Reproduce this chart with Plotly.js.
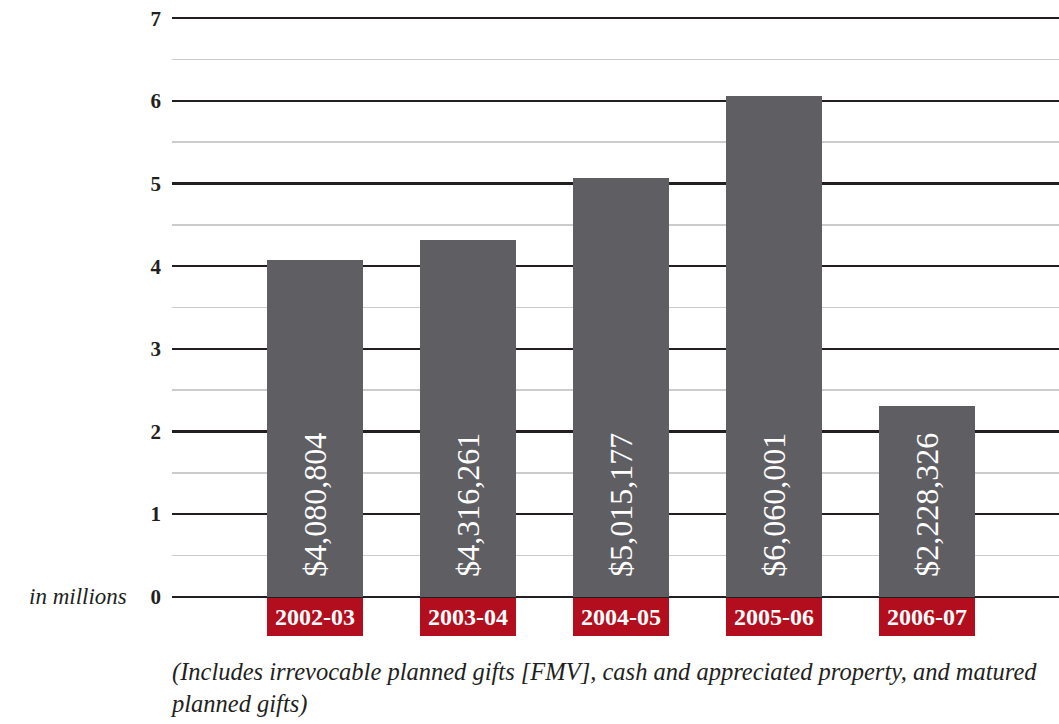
<!DOCTYPE html>
<html>
<head>
<meta charset="utf-8">
<script src="https://cdn.plot.ly/plotly-3.0.1.min.js"></script>
<style>html,body{margin:0;padding:0;background:#fff;}#chart{width:1059px;height:724px;}</style>
</head>
<body>
<div id="chart"></div>
<script>
var fiscalYears = ["2002-03", "2003-04", "2004-05", "2005-06", "2006-07"];
var giftsMillions = [4.07, 4.32, 5.07, 6.06, 2.31];
var giftLabels = ["$4,080,804", "$4,316,261", "$5,015,177", "$6,060,001", "$2,228,326"];
var yTicks = [0, 1, 2, 3, 4, 5, 6, 7];

var serif = "Liberation Serif";
var barColor = "#5f5e63";
var redColor = "#b30e1d";
var ink = "#231f20";

var trace = {
  type: "bar",
  x: fiscalYears,
  y: giftsMillions,
  width: 0.627,
  marker: {color: barColor, line: {width: 0}},
  hoverinfo: "skip"
};

var annotations = [];
fiscalYears.forEach(function (fy, i) {
  annotations.push({
    x: fy, y: 0, xref: "x", yref: "y",
    xanchor: "center", yanchor: "top",
    text: "<b>" + fy + "</b>",
    showarrow: false,
    bgcolor: redColor,
    width: 96, height: 38,
    borderpad: 0, borderwidth: 0,
    yshift: -1,
    font: {family: serif, size: 24, color: "#ffffff"}
  });
  annotations.push({
    x: fy, y: 0, xref: "x", yref: "y",
    xanchor: "center", yanchor: "bottom",
    text: giftLabels[i],
    textangle: -90,
    showarrow: false,
    yshift: 18,
    font: {family: serif, size: 32, color: "#ffffff"}
  });
});
annotations.push({
  x: 0, y: 0, xref: "paper", yref: "y",
  xanchor: "right", yanchor: "middle",
  xshift: -43,
  text: "<i>in millions</i>",
  showarrow: false,
  font: {family: serif, size: 23, color: ink}
});
annotations.push({
  x: 0, y: 0, xref: "paper", yref: "paper",
  xanchor: "left", yanchor: "top",
  xshift: -4,
  yshift: -58,
  align: "left",
  text: "<i>(Includes irrevocable planned gifts [FMV], cash and appreciated property, and matured<br>planned gifts)</i>",
  showarrow: false,
  font: {family: serif, size: 24.5, color: ink}
});

var layout = {
  width: 1059, height: 724,
  margin: {l: 172, r: 0, t: 17, b: 126, pad: 0},
  paper_bgcolor: "#ffffff",
  plot_bgcolor: "#ffffff",
  showlegend: false,
  bargap: 0,
  xaxis: {
    type: "category",
    range: [-0.935, 4.863],
    showticklabels: false,
    showgrid: false,
    zeroline: false,
    showline: false,
    ticks: ""
  },
  yaxis: {
    range: [-0.015, 7.015],
    tickvals: yTicks,
    ticktext: yTicks.map(String),
    tickfont: {family: serif, size: 21, color: ink, weight: "bold"},
    ticks: "",
    ticklabelstandoff: 10,
    showgrid: true,
    gridcolor: ink,
    gridwidth: 2.5,
    zeroline: false,
    showline: false,
    minor: {dtick: 0.5, tick0: 0, showgrid: true, gridcolor: "#cccccc", gridwidth: 1.5, ticks: ""}
  },
  annotations: annotations
};

Plotly.newPlot("chart", [trace], layout, {displayModeBar: false, staticPlot: true});
</script>
</body>
</html>
